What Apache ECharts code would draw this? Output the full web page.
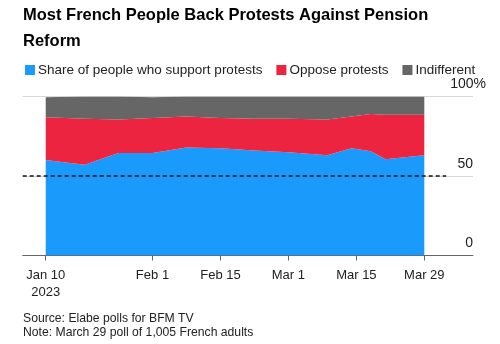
<!DOCTYPE html>
<html>
<head>
<meta charset="utf-8">
<script src="https://cdn.jsdelivr.net/npm/echarts@6/dist/echarts.min.js"></script>
<style>
html,body{margin:0;padding:0;background:#fff;}
#c{width:500px;height:344px;}
</style>
</head>
<body>
<div id="c"></div>
<script>
// Poll dates (2023)
const pollDates = ['2023-01-10','2023-01-18','2023-01-25','2023-02-01','2023-02-08','2023-02-15','2023-02-22','2023-03-01','2023-03-09','2023-03-14','2023-03-18','2023-03-21','2023-03-29'];
const support     = [60, 57, 64.5, 64.5, 68, 67.5, 66, 65, 63, 67.5, 65.5, 60.5, 63];
const oppose      = [27, 29, 21, 22, 19.5, 19, 20, 21, 22.5, 20, 23.5, 28, 25.5];
const indifferent = [12.5, 14, 14.5, 13, 12.5, 13.5, 14, 14, 14.5, 12.5, 11, 11.5, 11.5];
const seriesNames = ['Share of people who support protests', 'Oppose protests', 'Indifferent'];
const tickDates  = ['2023-01-10','2023-02-01','2023-02-15','2023-03-01','2023-03-15','2023-03-29'];
const tickLabels = ['Jan 10\n2023','Feb 1','Feb 15','Mar 1','Mar 15','Mar 29'];
const yTicks = [0, 50, 100];
const yTickLabels = ['0', '50', '100%'];
const refLine = 50;

const DAY = 86400000;
function tsOf(s){ const p = s.split('-').map(Number); return Date.UTC(p[0], p[1]-1, p[2]); }
const ORIGIN = tsOf('2023-01-10');
function dayNum(s){ return Math.round((tsOf(s) - ORIGIN) / DAY); }
const padLeftDays = 4.74, padRightDays = 10.03;
const lastDay = dayNum(pollDates[pollDates.length - 1]);
const xMinDay = -padLeftDays, xMaxDay = lastDay + padRightDays;
const tMin = ORIGIN + xMinDay * DAY, tMax = ORIGIN + xMaxDay * DAY;
const refEnd = ORIGIN + (lastDay + 4.5) * DAY;
const tickDays = tickDates.map(dayNum);

const colors = ['#1a9bfc', '#ec243f', '#666666'];
const font = '"Liberation Sans", Arial, Helvetica, sans-serif';

function mk(vals, i){
  return {
    name: seriesNames[i], type: 'line', stack: 'all', symbol: 'none',
    xAxisIndex: 0,
    lineStyle: {width: 0}, areaStyle: {color: colors[i], opacity: 1},
    itemStyle: {color: colors[i]}, emphasis: {disabled: true}, silent: true,
    data: pollDates.map((d, k) => [tsOf(d), vals[k]]),
    z: 2
  };
}
const s0 = mk(support, 0);
s0.markLine = {
  silent: true, symbol: 'none', label: {show: false},
  lineStyle: {color: '#111', type: [4, 3], width: 1.5},
  data: [[{coord: [tMin, refLine]}, {coord: [refEnd, refLine]}]],
  z: 5
};

const chart = echarts.init(document.getElementById('c'), null, {renderer: 'canvas'});
chart.setOption({
  animation: false,
  textStyle: {fontFamily: font},
  title: [{
    text: 'Most French People Back Protests Against Pension\nReform',
    left: 18, top: -2.5,
    textStyle: {fontFamily: font, fontSize: 16.5, fontWeight: 'bold', color: '#000', lineHeight: 26}
  }, {
    text: 'Source: Elabe polls for BFM TV\nNote: March 29 poll of 1,005 French adults',
    left: 18, top: 307,
    textStyle: {fontFamily: font, fontSize: 12.2, fontWeight: 'normal', color: '#222', lineHeight: 14}
  }],
  legend: {
    data: seriesNames, left: 20, top: 58, icon: 'rect', itemWidth: 10, itemHeight: 10,
    itemGap: 14, selectedMode: false,
    textStyle: {fontFamily: font, fontSize: 13.5, color: '#222', padding: [0, 0, 0, -2]}
  },
  grid: {left: 22.7, right: 27, top: 96.5, bottom: 88.5, containLabel: false},
  xAxis: [{
    // data axis (time), hidden
    type: 'time', min: tMin, max: tMax, show: false,
    splitLine: {show: false}
  }, {
    // visible axis in days since Jan 10, carrying the date ticks
    type: 'value', min: xMinDay, max: xMaxDay, position: 'bottom',
    axisLine: {show: true, onZero: false, lineStyle: {color: '#666', width: 1}},
    axisTick: {show: true, length: 5, lineStyle: {color: '#666'}, customValues: tickDays},
    axisLabel: {
      customValues: tickDays, fontSize: 13, color: '#222', lineHeight: 17, margin: 11,
      formatter: function(v){ const i = tickDays.indexOf(Math.round(v)); return i >= 0 ? tickLabels[i] : ''; }
    },
    splitLine: {show: false}
  }],
  yAxis: {
    type: 'value', min: 0, max: 100, interval: 50, position: 'right',
    axisLine: {show: false}, axisTick: {show: false},
    splitLine: {show: true, lineStyle: {color: '#d8d8d8', width: 1}},
    axisLabel: {
      inside: true, margin: -13, align: 'right', verticalAlign: 'bottom', lineHeight: 24,
      fontSize: 14, color: '#222',
      formatter: function(v){ const i = yTicks.indexOf(v); if (i < 0) return ''; return v === 100 ? yTickLabels[i] : '{p|' + yTickLabels[i] + '}'; },
      rich: {p: {fontSize: 14, color: '#222', padding: [0, 13, 0, 0], lineHeight: 24, fontFamily: font}}
    }
  },
  series: [s0, mk(oppose, 1), mk(indifferent, 2)]
});
</script>
</body>
</html>
